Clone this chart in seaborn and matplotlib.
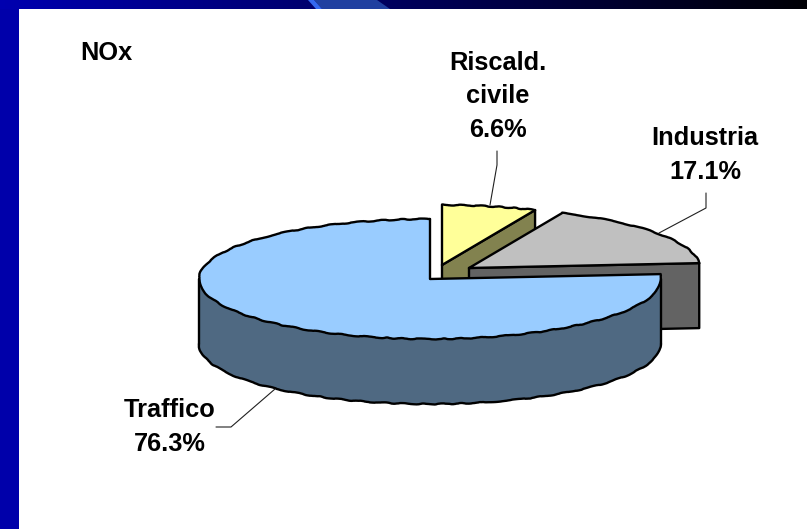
import numpy as np
import matplotlib
matplotlib.use('Agg')
import matplotlib.pyplot as plt
import seaborn as sns

# dati (quote NOx in %)
categorie = ['Traffico', 'Industria', 'Riscald.\ncivile']
quote = [76.3, 17.1, 6.6]
titolo = 'NOx'

sns.set_theme(style='white')
plt.rcParams['font.family'] = ['Liberation Sans', 'DejaVu Sans']

colori = sns.color_palette(['#99CCFF', '#C0C0C0', '#FFFF99'])
scuri = [tuple(c * 0.5 + 0.01 for c in col) for col in colori]

fig = plt.figure(figsize=(8.07, 5.29), dpi=100)
ax = fig.add_axes([0, 0, 1, 1])
ax.axis('off')

# cornice blu della diapositiva
ax.fill([0, 19, 19, 0], [0, 0, 529, 529], color='#0000AA', lw=0, zorder=1)
grad = np.zeros((1, 807, 3))
grad[0, :, 2] = np.linspace(0.69, 0.02, 807)
ax.imshow(grad, extent=(0, 807, 9, 0), aspect='auto', zorder=1)
ax.set_xlim(0, 807)
ax.set_ylim(529, 0)
ax.fill([314, 377, 390, 322], [0, 0, 9, 9], color='#2040A0', lw=0, zorder=2)
ax.fill([308, 314, 322, 316], [0, 0, 9, 9], color='#3468F0', lw=0, zorder=2)

# geometria della torta
RX, RY, H = 231, 60, 65
centri = [(430, 279), (469, 268), (442, 265)]


def arco(c, a0, a1, dy=0):
    t = np.radians(np.linspace(a0, a1, 120))
    return c[0] + RX * np.cos(t), c[1] - RY * np.sin(t) + dy


def punto(c, a):
    return c[0] + RX * np.cos(np.radians(a)), c[1] - RY * np.sin(np.radians(a))


def bordo(xs, ys, z, mosso=False):
    ln = ax.plot(xs, ys, color='black', lw=1.7, solid_capstyle='round', solid_joinstyle='round', zorder=z)[0]
    if mosso:
        ln.set_sketch_params(scale=0.5, length=30, randomness=4)


angoli = 90 + np.cumsum([0] + [q * 3.6 for q in quote])
spicchi = list(zip(categorie, angoli[:-1], angoli[1:], centri, colori, scuri))

# ordine: dal fondo (riscald., industria) al davanti (traffico)
for i, (nome, a0, a1, c, col, scuro) in reversed(list(enumerate(spicchi))):
    z = 10 + (2 - i) * 3
    if nome == 'Traffico':
        # fianco esterno visibile da 180 a 360 gradi
        x1, y1 = arco(c, 180, 360)
        x2, y2 = arco(c, 360, 180, H)
        ax.fill(np.r_[x1, x2], np.r_[y1, y2], color=scuro, lw=0, zorder=z)
        bordo(x2, y2, z, mosso=True)
        bordo([x1[0], x1[0]], [y1[0], y2[-1]], z)
        bordo([x1[-1], x1[-1]], [y1[-1], y2[0]], z)
    else:
        # fianco piano verso il centro
        xe, ye = punto(c, a0 % 360)
        ax.fill([c[0], xe, xe, c[0]], [c[1], ye, ye + H, c[1] + H], color=scuro, lw=0, zorder=z)
        bordo([c[0], xe, xe, c[0], c[0]], [c[1], ye, ye + H, c[1] + H, c[1]], z)
    xa, ya = arco(c, a0, a1)
    ax.fill(np.r_[c[0], xa], np.r_[c[1], ya], color=col, lw=0, zorder=z + 1)
    bordo(xa, ya, z + 1, mosso=True)
    bordo([xa[0], c[0], xa[-1]], [ya[0], c[1], ya[-1]], z + 1)

# linee guida
guide = [([216, 231, 275], [427, 427, 389]),
         ([706, 706, 659], [193, 208, 233]),
         ([497, 497, 490], [151, 165, 205])]
for gx, gy in guide:
    ax.plot(gx, gy, color='#202020', lw=0.8, zorder=30)

# etichette
font = dict(fontsize=18.3, fontweight='bold', color='black', ha='center', va='baseline', zorder=31)
pos = [(170, [417, 451]), (705, [145, 179]), (498, [70, 103, 137])]
for nome, q, (x, ys) in zip(categorie, quote, pos):
    righe = nome.split('\n') + [f'{q:.1f}%']
    for riga, y in zip(righe, ys):
        ax.text(x, y, riga, **font)
ax.text(80, 60, titolo, fontsize=18.3, fontweight='bold', color='black', ha='left', va='baseline', zorder=31)

fig.savefig('out.png', dpi=100, facecolor='white')
